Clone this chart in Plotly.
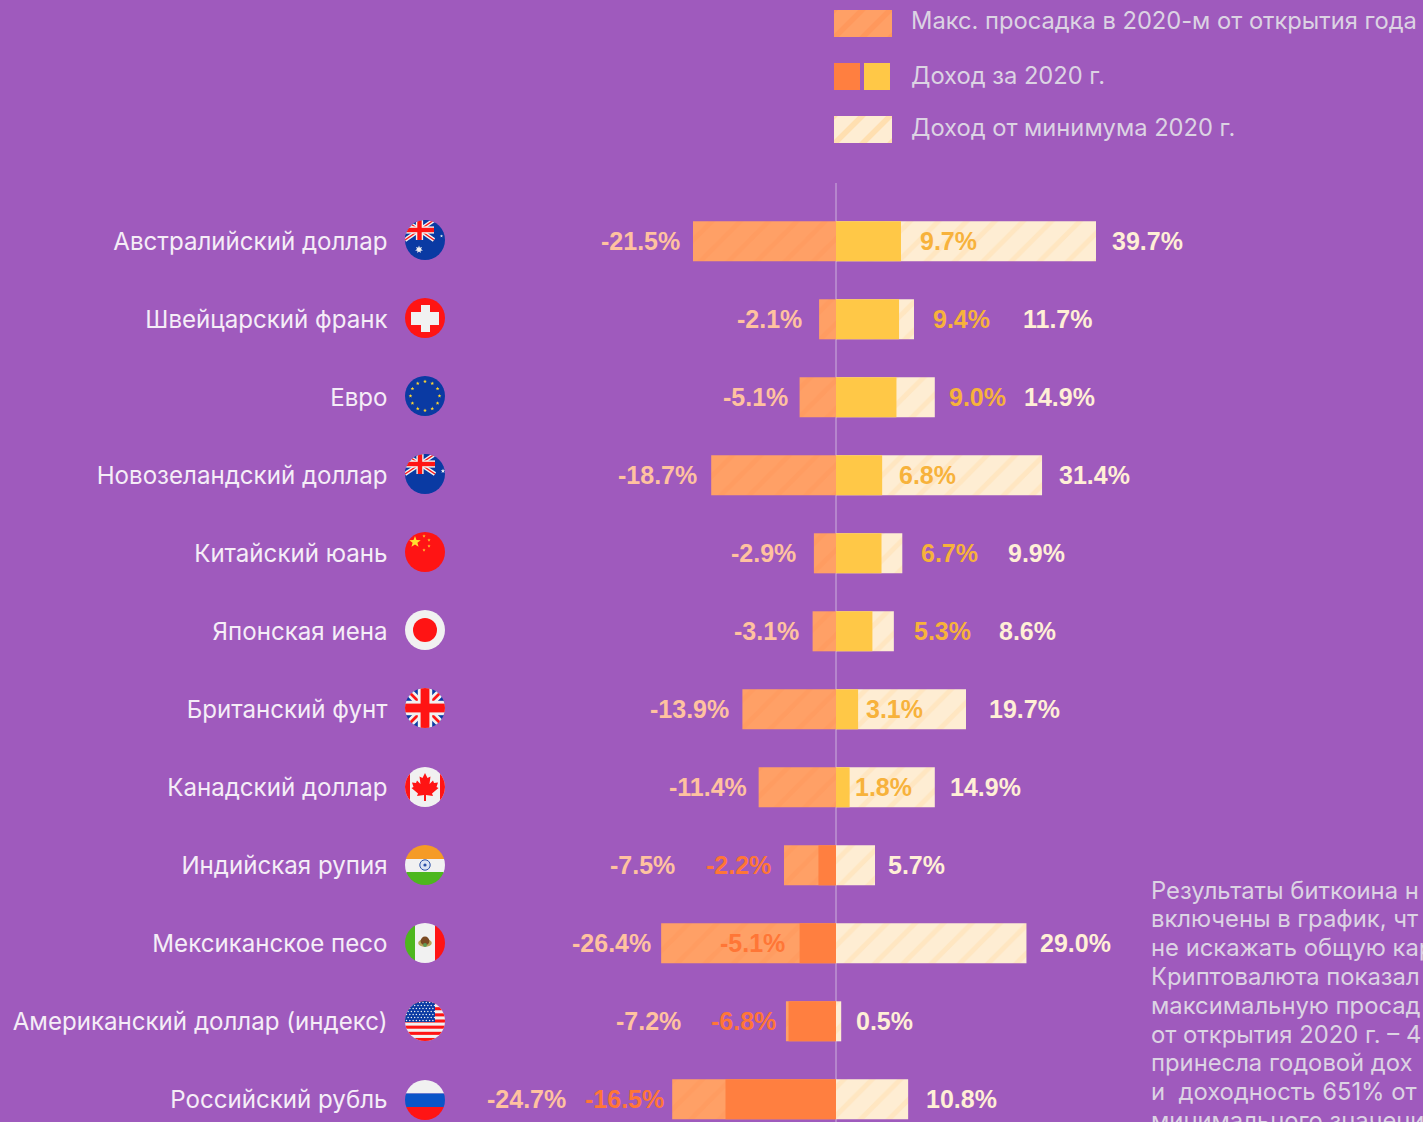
import base64, math
import plotly.graph_objects as go

W, H = 1423, 1122
ZERO_PX, PX_PER_PCT = 836, 6.5
ROW0_PX, ROW_PITCH = 241.3, 78.0
NEG_PAD, POS_PAD = 0.5, 0.3

categories = ["Австралийский доллар", "Швейцарский франк", "Евро", "Новозеландский доллар",
              "Китайский юань", "Японская иена", "Британский фунт", "Канадский доллар",
              "Индийская рупия", "Мексиканское песо", "Американский доллар (индекс)", "Российский рубль"]
max_drawdown = [-21.5, -2.1, -5.1, -18.7, -2.9, -3.1, -13.9, -11.4, -7.5, -26.4, -7.2, -24.7]
return_2020 = [9.7, 9.4, 9.0, 6.8, 6.7, 5.3, 3.1, 1.8, -2.2, -5.1, -6.8, -16.5]
return_from_low = [39.7, 11.7, 14.9, 31.4, 9.9, 8.6, 19.7, 14.9, 5.7, 29.0, 0.5, 10.8]
legend_labels = ["Макс. просадка в 2020-м от открытия года", "Доход за 2020 г.", "Доход от минимума 2020 г."]
# the note is cropped by the page in the reference: only what can be read there is kept
note_lines = ["Результаты биткоина н", "включены в график, чт", "не искажать общую кар",
              "Криптовалюта показал", "максимальную просад", "от открытия 2020 г. – 4",
              "принесла годовой дох", "и  доходность 651% от", "минимального значени"]

BG = "#9F5ABD"
ORANGE_HATCH_BG, ORANGE_HATCH_FG = "#FFA066", "#FF985C"
CREAM_BG, CREAM_FG = "#FEEDD3", "#FFDFB0"
ORANGE, YELLOW = "#FF7F40", "#FFC847"
FONT = "Inter"

# placement of the value labels, in page pixels (right edge / left edge)
drawdown_label_right = [681, 803, 789, 698, 797, 800, 730, 748, 676, 652, 682, 567]
negative_label_right = {8: 772, 9: 786, 10: 777, 11: 665}
income_label_left = [919, 932, 948, 898, 920, 913, 865, 854]
total_label_left = [1111, 1022, 1023, 1058, 1007, 998, 988, 949, 887, 1039, 855, 925]
flag_centres = [240, 318, 396, 474, 552, 630, 708, 787, 865, 943, 1021, 1100]


def px_x(p):
    return (p - ZERO_PX) / PX_PER_PCT


def star(cx, cy, r, fill, n=5, inner=0.42):
    pts = []
    for i in range(n * 2):
        a = -math.pi / 2 + i * math.pi / n
        rr = r if i % 2 == 0 else r * inner
        pts.append(f"{cx + rr * math.cos(a):.2f},{cy + rr * math.sin(a):.2f}")
    return f'<polygon points="{" ".join(pts)}" fill="{fill}"/>'


def rect(x, y, w, h, fill):
    return f'<rect x="{x}" y="{y}" width="{w}" height="{h}" fill="{fill}"/>'


BLUE, RED, WHITE = "#0A3AA3", "#FF1414", "#F1F1F1"


def jack(w, h):
    cx, cy = w / 2, h / 2
    s = rect(0, 0, w, h, BLUE)
    s += f'<path d="M0 0L{w} {h}M{w} 0L0 {h}" stroke="{WHITE}" stroke-width="{h*0.2}"/>'
    s += f'<path d="M0 0L{w} {h}M{w} 0L0 {h}" stroke="{RED}" stroke-width="{h*0.07}"/>'
    s += rect(0, cy - h * .18, w, h * .36, WHITE) + rect(cx - h * .18, 0, h * .36, h, WHITE)
    s += rect(0, cy - h * .11, w, h * .22, RED) + rect(cx - h * .11, 0, h * .22, h, RED)
    return s


def flag_au():
    return rect(0, 0, 40, 40, BLUE) + jack(29, 20) + star(14, 29.5, 4, WHITE, 7, .5) + star(36.5, 16, 1.6, WHITE)


def flag_ch():
    return rect(0, 0, 40, 40, RED) + rect(6, 14, 28, 13, WHITE) + rect(16, 7, 9, 27, WHITE)


def flag_eu():
    s = rect(0, 0, 40, 40, BLUE)
    for i in range(12):
        a = i * math.pi / 6
        s += star(20 + 14.5 * math.cos(a), 20 + 14.5 * math.sin(a), 2, "#FFD830")
    return s


def flag_nz():
    return rect(0, 0, 40, 40, BLUE) + jack(30, 20) + star(38, 17, 2.4, WHITE)


def flag_cn():
    return (rect(0, 0, 40, 40, RED) + star(10, 10, 6, "#FFE030") + star(19, 4, 1.7, "#FFC830")
            + star(24, 8, 1.7, "#FFC830") + star(24, 14, 1.7, "#FFC830") + star(19, 18, 1.7, "#FFC830"))


def flag_jp():
    return rect(0, 0, 40, 40, WHITE) + f'<circle cx="20" cy="20" r="12" fill="{RED}"/>'


def flag_ca():
    leaf = ("20,6 22.5,11 25.5,9.5 24.5,17 28,13.5 29,16 33,15.5 31.5,20 33.5,21 27,26.5 "
            "28,29 21,28 21,34 19,34 19,28 12,29 13,26.5 6.5,21 8.5,20 7,15.5 11,16 12,13.5 "
            "15.5,17 14.5,9.5 17.5,11")
    return rect(0, 0, 40, 40, WHITE) + rect(0, 0, 5, 40, RED) + rect(35, 0, 5, 40, RED) + f'<polygon points="{leaf}" fill="{RED}"/>'


def flag_in():
    return (rect(0, 0, 40, 14, "#F59B26") + rect(0, 14, 40, 14, WHITE) + rect(0, 27, 40, 13, "#4DB71E")
            + '<circle cx="20" cy="20" r="5.2" fill="#DCE3F4" stroke="#2A4FA8" stroke-width="1"/>'
            + '<circle cx="20" cy="20" r="1.6" fill="#2A4FA8"/>')


def flag_mx():
    return (rect(0, 0, 10, 40, "#4DB71E") + rect(10, 0, 20, 40, WHITE) + rect(30, 0, 10, 40, RED)
            + '<ellipse cx="20" cy="20" rx="6.8" ry="3.8" fill="#B9A55A"/>'
            + '<circle cx="20" cy="18" r="4.4" fill="#7A4A22"/>'
            + '<circle cx="20" cy="22" r="2" fill="#5E9A55"/>')


def flag_us():
    s = rect(0, 0, 40, 40, WHITE)
    for i in range(0, 13, 2):
        s += rect(0, i * 3.08, 40, 3.08, RED)
    s += rect(0, 0, 30, 21, BLUE)
    for r in range(7):
        for c in range(9):
            s += f'<circle cx="{1.5 + c * 3.3 + (r % 2) * 1.6:.1f}" cy="{1.6 + r * 3:.1f}" r="0.75" fill="{WHITE}"/>'
    return s


def flag_ru():
    return rect(0, 0, 40, 13.5, WHITE) + rect(0, 13.5, 40, 13.5, "#0A55C8") + rect(0, 27, 40, 13, RED)


def flag_gb():
    return jack(40, 40)


flags = [flag_au, flag_ch, flag_eu, flag_nz, flag_cn, flag_jp, flag_gb, flag_ca, flag_in, flag_mx, flag_us, flag_ru]


def uri(svg):
    return "data:image/svg+xml;base64," + base64.b64encode(svg.encode()).decode()


def flag_uri(fn, i):
    return uri(f'<svg xmlns="http://www.w3.org/2000/svg" width="40" height="40" viewBox="0 0 40 40">'
               f'<defs><clipPath id="c{i}"><circle cx="20" cy="20" r="20"/></clipPath></defs>'
               f'<g clip-path="url(#c{i})">{fn()}</g></svg>')


def swatch_uri(bg, fg, i):
    return uri(f'<svg xmlns="http://www.w3.org/2000/svg" width="58" height="27" viewBox="0 0 58 27">'
               f'<defs><pattern id="p{i}" width="28" height="28" patternUnits="userSpaceOnUse">'
               f'<rect width="28" height="28" fill="{bg}"/>'
               f'<path d="M-7 35L35 -7M-21 21L21 -21M7 49L49 7" stroke="{fg}" stroke-width="5.5"/></pattern></defs>'
               f'<rect width="58" height="27" fill="url(#p{i})"/></svg>')


fig = go.Figure()

fig.add_bar(y=categories, x=[v - NEG_PAD for v in max_drawdown], orientation="h", width=0.513,
            marker=dict(color=ORANGE_HATCH_BG, line_width=0,
                        pattern=dict(shape="/", size=20, solidity=0.25, fgcolor=ORANGE_HATCH_FG, bgcolor=ORANGE_HATCH_BG)),
            showlegend=False, hoverinfo="skip")
fig.add_bar(y=categories, x=[v + POS_PAD for v in return_from_low], orientation="h", width=0.513,
            marker=dict(color=CREAM_BG, line_width=0,
                        pattern=dict(shape="/", size=20, solidity=0.25, fgcolor=CREAM_FG, bgcolor=CREAM_BG)),
            showlegend=False, hoverinfo="skip")
fig.add_bar(y=categories, x=[v + POS_PAD if v > 0 else v - NEG_PAD for v in return_2020], orientation="h", width=0.513,
            marker=dict(color=[YELLOW if v > 0 else ORANGE for v in return_2020], line_width=0),
            showlegend=False, hoverinfo="skip")


def label(i, px, text, color, anchor):
    fig.add_annotation(x=px_x(px), y=categories[i], xref="x", yref="y", text=f"<b>{text}</b>", showarrow=False,
                       xanchor=anchor, yanchor="middle", borderpad=0,
                       font=dict(family="Liberation Sans", size=25, color=color))


for i, v in enumerate(max_drawdown):
    label(i, drawdown_label_right[i], f"{v:.1f}%", "#FFC2A0", "right")
for i, v in enumerate(return_2020):
    if v > 0:
        label(i, income_label_left[i], f"{v:.1f}%", "#F7B23B", "left")
    else:
        label(i, negative_label_right[i], f"{v:.1f}%", "#FF7636", "right")
for i, v in enumerate(return_from_low):
    label(i, total_label_left[i], f"{v:.1f}%", "#FFEFD6", "left")

images = []
for i, fn in enumerate(flags):
    images.append(dict(source=flag_uri(fn, i), xref="paper", yref="paper", x=405 / W, y=1 - (flag_centres[i] - 20) / H,
                       sizex=40 / W, sizey=40 / H, xanchor="left", yanchor="top", sizing="stretch", layer="above"))
images.append(dict(source=swatch_uri(ORANGE_HATCH_BG, ORANGE_HATCH_FG, 1), xref="paper", yref="paper", x=834 / W, y=1 - 10 / H,
                   sizex=58 / W, sizey=27 / H, xanchor="left", yanchor="top", sizing="stretch", layer="above"))
images.append(dict(source=swatch_uri(CREAM_BG, CREAM_FG, 2), xref="paper", yref="paper", x=834 / W, y=1 - 116 / H,
                   sizex=58 / W, sizey=27 / H, xanchor="left", yanchor="top", sizing="stretch", layer="above"))

shapes = [
    dict(type="line", layer="below", xref="x", x0=0, x1=0, yref="paper", y0=0, y1=1 - 183 / H,
         line=dict(color="#CDB0DC", width=1)),
    dict(type="rect", xref="paper", yref="paper", x0=834 / W, x1=860 / W, y0=1 - 90 / H, y1=1 - 63 / H,
         fillcolor=ORANGE, line_width=0),
    dict(type="rect", xref="paper", yref="paper", x0=864 / W, x1=890 / W, y0=1 - 90 / H, y1=1 - 63 / H,
         fillcolor=YELLOW, line_width=0),
]

for t, py in zip(legend_labels, [21, 75, 128]):
    fig.add_annotation(x=910 / W, y=1 - py / H, xref="paper", yref="paper", text=t, showarrow=False,
                       xanchor="left", yanchor="middle", borderpad=0, font=dict(family=FONT, size=23.7, color="#DCD3E3"))
for n, t in enumerate(note_lines):
    fig.add_annotation(x=1150 / W, y=1 - (890 + n * 28.8) / H, xref="paper", yref="paper", text=t, showarrow=False,
                       xanchor="left", yanchor="middle", borderpad=0, font=dict(family=FONT, size=23.8, color="#DCD3E3"))

fig.update_layout(
    width=W, height=H, autosize=False, margin=dict(l=0, r=0, t=0, b=0), barmode="overlay",
    paper_bgcolor=BG, plot_bgcolor=BG, showlegend=False, images=images, shapes=shapes,
    xaxis=dict(visible=False, range=[px_x(0), px_x(W)], domain=[0, 1], fixedrange=True),
    yaxis=dict(type="category", categoryorder="array", categoryarray=categories, showgrid=False, zeroline=False,
               showline=False, ticks="", anchor="free", position=387.5 / W, automargin=False,
               range=[(H - ROW0_PX) / ROW_PITCH, -ROW0_PX / ROW_PITCH], fixedrange=True,
               tickfont=dict(family=FONT, size=24.1, color="#F5EDF7")),
)
fig.write_html("out.html", config={"displayModeBar": False},
               post_script="document.body.style.margin='0';document.body.style.background='" + BG + "';document.documentElement.style.overflow='hidden';")
